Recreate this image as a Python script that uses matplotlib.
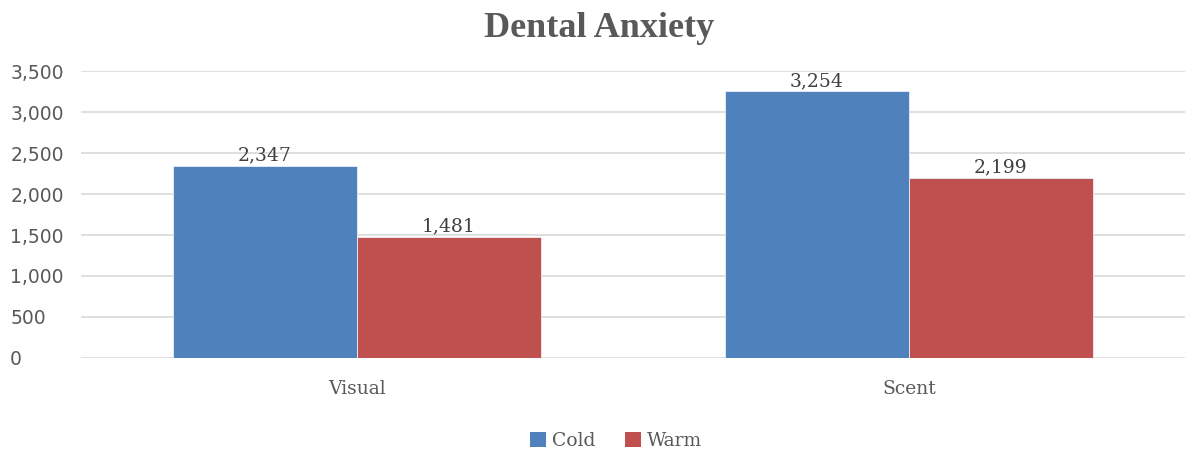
import matplotlib
matplotlib.use("Agg")
import matplotlib.pyplot as plt
import numpy as np
from matplotlib.ticker import FuncFormatter
from matplotlib.patches import Patch

categories = ["Visual", "Scent"]
series_names = ["Cold", "Warm"]
cold_values = [2347, 3254]
warm_values = [1481, 2199]
yticks = [0, 500, 1000, 1500, 2000, 2500, 3000, 3500]

colors = ["#4F81BD", "#C0504D"]
text_color = "#595959"
serif = ["DejaVu Serif"]
title_font = ["Liberation Serif", "DejaVu Serif"]

fig = plt.figure(figsize=(11.92, 4.54), dpi=100)
ax = fig.add_axes([0.068, 0.2115, 0.926, 0.632])

x = np.arange(len(categories))
width = 0.333
series = [cold_values, warm_values]
for i, (vals, col) in enumerate(zip(series, colors)):
    offs = (i - 0.5) * width
    bars = ax.bar(x + offs, vals, width, color=col, edgecolor="#EAF0F8", linewidth=0.6, zorder=3)
    for b, v in zip(bars, vals):
        ax.text(b.get_x() + b.get_width() / 2, v + 15, f"{v:,}", ha="center", va="bottom",
                fontsize=13.5, color="#404040", family=serif, zorder=4)

ax.set_xlim(-0.5, 1.5)
ax.set_ylim(0, 3500)
ax.set_yticks(yticks)
ax.yaxis.set_major_formatter(FuncFormatter(lambda v, p: f"{int(v):,}"))
ax.grid(axis="y", color="#D9D9D9", linewidth=1.2, zorder=0)
for s in ax.spines.values():
    s.set_visible(False)
ax.tick_params(axis="both", length=0)
ax.tick_params(axis="y", pad=51, labelsize=13.5, labelcolor=text_color)
ax.tick_params(axis="x", pad=16, labelsize=13.5, labelcolor=text_color)
for lbl in ax.get_yticklabels():
    lbl.set_family(["DejaVu Sans"])
    lbl.set_horizontalalignment("left")
ax.set_xticks(x)
ax.set_xticklabels(categories, family=serif)

fig.text(0.503, 0.937, "Dental Anxiety", ha="center", va="center", fontsize=26,
         fontweight="bold", color=text_color, family=title_font)

handles = [Patch(facecolor=c, edgecolor="none") for c in colors]
leg = fig.legend(handles, series_names, loc="center", bbox_to_anchor=(0.517, 0.029),
                 ncol=2, frameon=False, prop={"family": serif, "size": 13.5},
                 handlelength=0.85, handleheight=0.85, handletextpad=0.3, columnspacing=1.6)
for t in leg.get_texts():
    t.set_color(text_color)

fig.savefig("out.png", dpi=100, facecolor="white")
